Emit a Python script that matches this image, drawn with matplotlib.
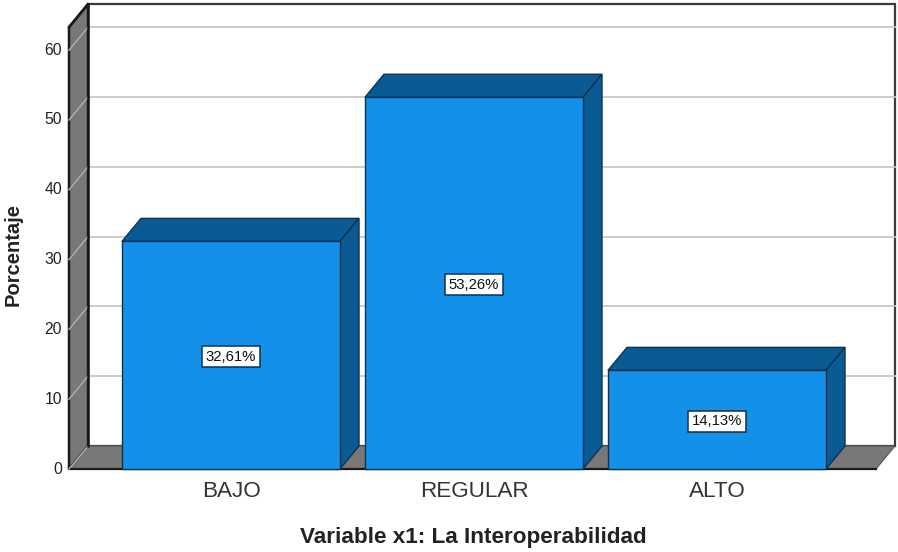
import matplotlib
matplotlib.use('Agg')
import matplotlib.pyplot as plt
from matplotlib.patches import Polygon

plt.rcParams['font.family'] = ['Liberation Sans', 'DejaVu Sans']

categories = ['BAJO', 'REGULAR', 'ALTO']
values = [32.61, 53.26, 14.13]
value_labels = ['32,61%', '53,26%', '14,13%']
yticks = [0, 10, 20, 30, 40, 50, 60]

W, H = 898, 552
px_cat = 243.0    # pixels per category
px_unit = 6.98    # pixels per percent
x0_px = 231.0     # centre of first bar
y0_px = 469.0     # baseline of front plane

BLUE = '#1290ea'
BLUE_DARK = '#0a5a94'
GREY = '#787878'
EDGE = '#1a1a1a'
BAR_EDGE = '#0c3350'

fig = plt.figure(figsize=(W / 100, H / 100), dpi=100)
ax = fig.add_axes([0, 0, 1, 1])
ax.set_xlim(-x0_px / px_cat, (W - x0_px) / px_cat)
ax.set_ylim(-(H - y0_px) / px_unit, y0_px / px_unit)
ax.axis('off')

dx = 19 / px_cat
dy = 23 / px_unit
bar_w = 218 / px_cat
left = (69 - x0_px) / px_cat
right = (876 - x0_px) / px_cat
top = 63.3


def poly(pts, face, z, lw=1.0, edge=EDGE):
    ax.add_patch(Polygon(pts, closed=True, facecolor=face, edgecolor=edge,
                         linewidth=lw, joinstyle='miter', zorder=z))


# back wall, side wall and floor
poly([(left + dx, dy), (right + dx, dy), (right + dx, top + dy), (left + dx, top + dy)], 'white', 1, lw=1.6, edge='#3a3a3a')
poly([(left, 0), (left + dx, dy), (left + dx, top + dy), (left, top)], GREY, 2, lw=1.8)
poly([(left, 0), (left + dx, dy), (right + dx, dy), (right, 0)], GREY, 2, lw=0.8, edge='#555555')
ax.plot([left, right], [0, 0], color=EDGE, lw=1.6, zorder=3)

# gridlines run along the back wall and fold onto the side wall
for t in yticks[1:]:
    ax.plot([left + dx, right + dx], [t + dy, t + dy], color='#c8c8c8', lw=1.3, zorder=1.5)
    ax.plot([left, left + dx], [t, t + dy], color='#b0b0b0', lw=1.0, zorder=3)
ax.plot([left, left + dx], [0, dy], color='#b0b0b0', lw=1.0, zorder=3)
ax.plot([left + dx, left + dx], [dy, top + dy], color=EDGE, lw=1.8, zorder=3)
ax.plot([left, left + dx], [top, top + dy], color=EDGE, lw=1.8, zorder=3)

# y tick labels
for t in yticks:
    ax.text(left - 7 / px_cat, t, str(t), ha='right', va='center',
            fontsize=11.3, color='#222222', zorder=5)

# bars
for i, (cat, v, lab) in enumerate(zip(categories, values, value_labels)):
    l = i - bar_w / 2
    r = i + bar_w / 2
    poly([(l, v), (l + dx, v + dy), (r + dx, v + dy), (r, v)], BLUE_DARK, 6, edge=BAR_EDGE)
    poly([(r, 0), (r + dx, dy), (r + dx, v + dy), (r, v)], BLUE_DARK, 6, edge=BAR_EDGE)
    poly([(l, 0), (r, 0), (r, v), (l, v)], BLUE, 7, edge=BAR_EDGE)
    ax.text(i, v / 2 - 0.2, lab, ha='center', va='center', fontsize=10.7, color='#111111', zorder=8,
            bbox=dict(boxstyle='square,pad=0.24', facecolor='white', edgecolor='#103048', linewidth=1.1))
    ax.text(i, -3.2, cat, ha='center', va='center', fontsize=16.2, color='#333333', zorder=8)

ax.text((473 - x0_px) / px_cat, -(537 - y0_px) / px_unit, 'Variable x1: La Interoperabilidad',
        ha='center', va='center', fontsize=16.2, fontweight='bold', color='#222222')
ax.text((13 - x0_px) / px_cat, (y0_px - 254) / px_unit, 'Porcentaje', rotation=90,
        ha='center', va='center', fontsize=14.5, fontweight='bold', color='#222222')

fig.savefig('out.png', dpi=100)
